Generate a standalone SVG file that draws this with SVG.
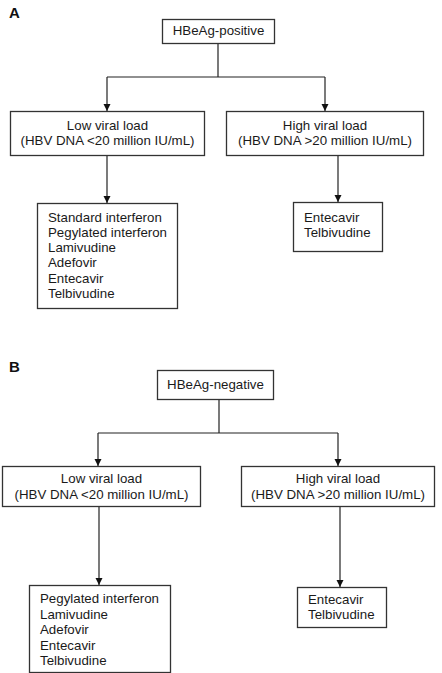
<svg xmlns="http://www.w3.org/2000/svg" width="442" height="673" viewBox="0 0 442 673">
<defs>
<marker id="ah" markerUnits="userSpaceOnUse" markerWidth="8" markerHeight="8" refX="7" refY="3.5" orient="auto">
<path d="M0,0 L7,3.5 L0,7 Z" fill="#111"/>
</marker>
<style>
.box{fill:#fff;stroke:#333;stroke-width:1.3}
.t{font-family:"Liberation Sans",Arial,sans-serif;font-size:13.3px;fill:#1a1a1a}
.c{text-anchor:middle}
.lbl{font-family:"Liberation Sans",Arial,sans-serif;font-size:15px;font-weight:bold;fill:#111}
.ln{fill:none;stroke:#222;stroke-width:1.2}
</style>
</defs>
<rect width="442" height="673" fill="#fff"/>
<text class="lbl" x="9" y="18">A</text>
<text class="lbl" x="9" y="372">B</text>

<g id="connectors">
<path class="ln" d="M218,43 V77 M107,77 H325"/>
<path class="ln" d="M107,77 V111" marker-end="url(#ah)"/>
<path class="ln" d="M325,77 V111" marker-end="url(#ah)"/>
<path class="ln" d="M107,155 V203" marker-end="url(#ah)"/>
<path class="ln" d="M338,155 V202" marker-end="url(#ah)"/>
<path class="ln" d="M219,399 V433 M98,433 H338"/>
<path class="ln" d="M98,433 V466" marker-end="url(#ah)"/>
<path class="ln" d="M338,433 V466" marker-end="url(#ah)"/>
<path class="ln" d="M99,507 V585" marker-end="url(#ah)"/>
<path class="ln" d="M340,507 V587" marker-end="url(#ah)"/>
</g>

<g id="a-root">
<rect class="box" x="162.5" y="19.5" width="112" height="24"/>
<text class="t c" x="218.5" y="35">HBeAg-positive</text>
</g>
<g id="a-low">
<rect class="box" x="10.5" y="111.5" width="194" height="44"/>
<text class="t c" x="107.5" y="129.5">Low viral load</text>
<text class="t c" x="107.5" y="145">(HBV DNA &lt;20 million IU/mL)</text>
</g>
<g id="a-high">
<rect class="box" x="226.5" y="111.5" width="197" height="44"/>
<text class="t c" x="325" y="129.5">High viral load</text>
<text class="t c" x="325" y="145">(HBV DNA &gt;20 million IU/mL)</text>
</g>
<g id="a-low-drugs">
<rect class="box" x="37.5" y="203.5" width="140" height="105"/>
<text class="t" x="48" y="221.5">Standard interferon</text>
<text class="t" x="48" y="236.8">Pegylated interferon</text>
<text class="t" x="48" y="252.1">Lamivudine</text>
<text class="t" x="48" y="267.4">Adefovir</text>
<text class="t" x="48" y="282.7">Entecavir</text>
<text class="t" x="48" y="298">Telbivudine</text>
</g>
<g id="a-high-drugs">
<rect class="box" x="293.5" y="202.5" width="89" height="49"/>
<text class="t" x="304" y="221.5">Entecavir</text>
<text class="t" x="304" y="236.8">Telbivudine</text>
</g>

<g id="b-root">
<rect class="box" x="157.5" y="370.5" width="116" height="29"/>
<text class="t c" x="215.5" y="388.5">HBeAg-negative</text>
</g>
<g id="b-low">
<rect class="box" x="2.5" y="466.5" width="198" height="40"/>
<text class="t c" x="101.5" y="483">Low viral load</text>
<text class="t c" x="101.5" y="498.5">(HBV DNA &lt;20 million IU/mL)</text>
</g>
<g id="b-high">
<rect class="box" x="241.5" y="466.5" width="193" height="40"/>
<text class="t c" x="338" y="483">High viral load</text>
<text class="t c" x="338" y="498.5">(HBV DNA &gt;20 million IU/mL)</text>
</g>
<g id="b-low-drugs">
<rect class="box" x="29.5" y="585.5" width="141" height="87"/>
<text class="t" x="40" y="603">Pegylated interferon</text>
<text class="t" x="40" y="618.5">Lamivudine</text>
<text class="t" x="40" y="634">Adefovir</text>
<text class="t" x="40" y="649.5">Entecavir</text>
<text class="t" x="40" y="665">Telbivudine</text>
</g>
<g id="b-high-drugs">
<rect class="box" x="297.5" y="587.5" width="89" height="40"/>
<text class="t" x="308" y="603.5">Entecavir</text>
<text class="t" x="308" y="619">Telbivudine</text>
</g>
</svg>
